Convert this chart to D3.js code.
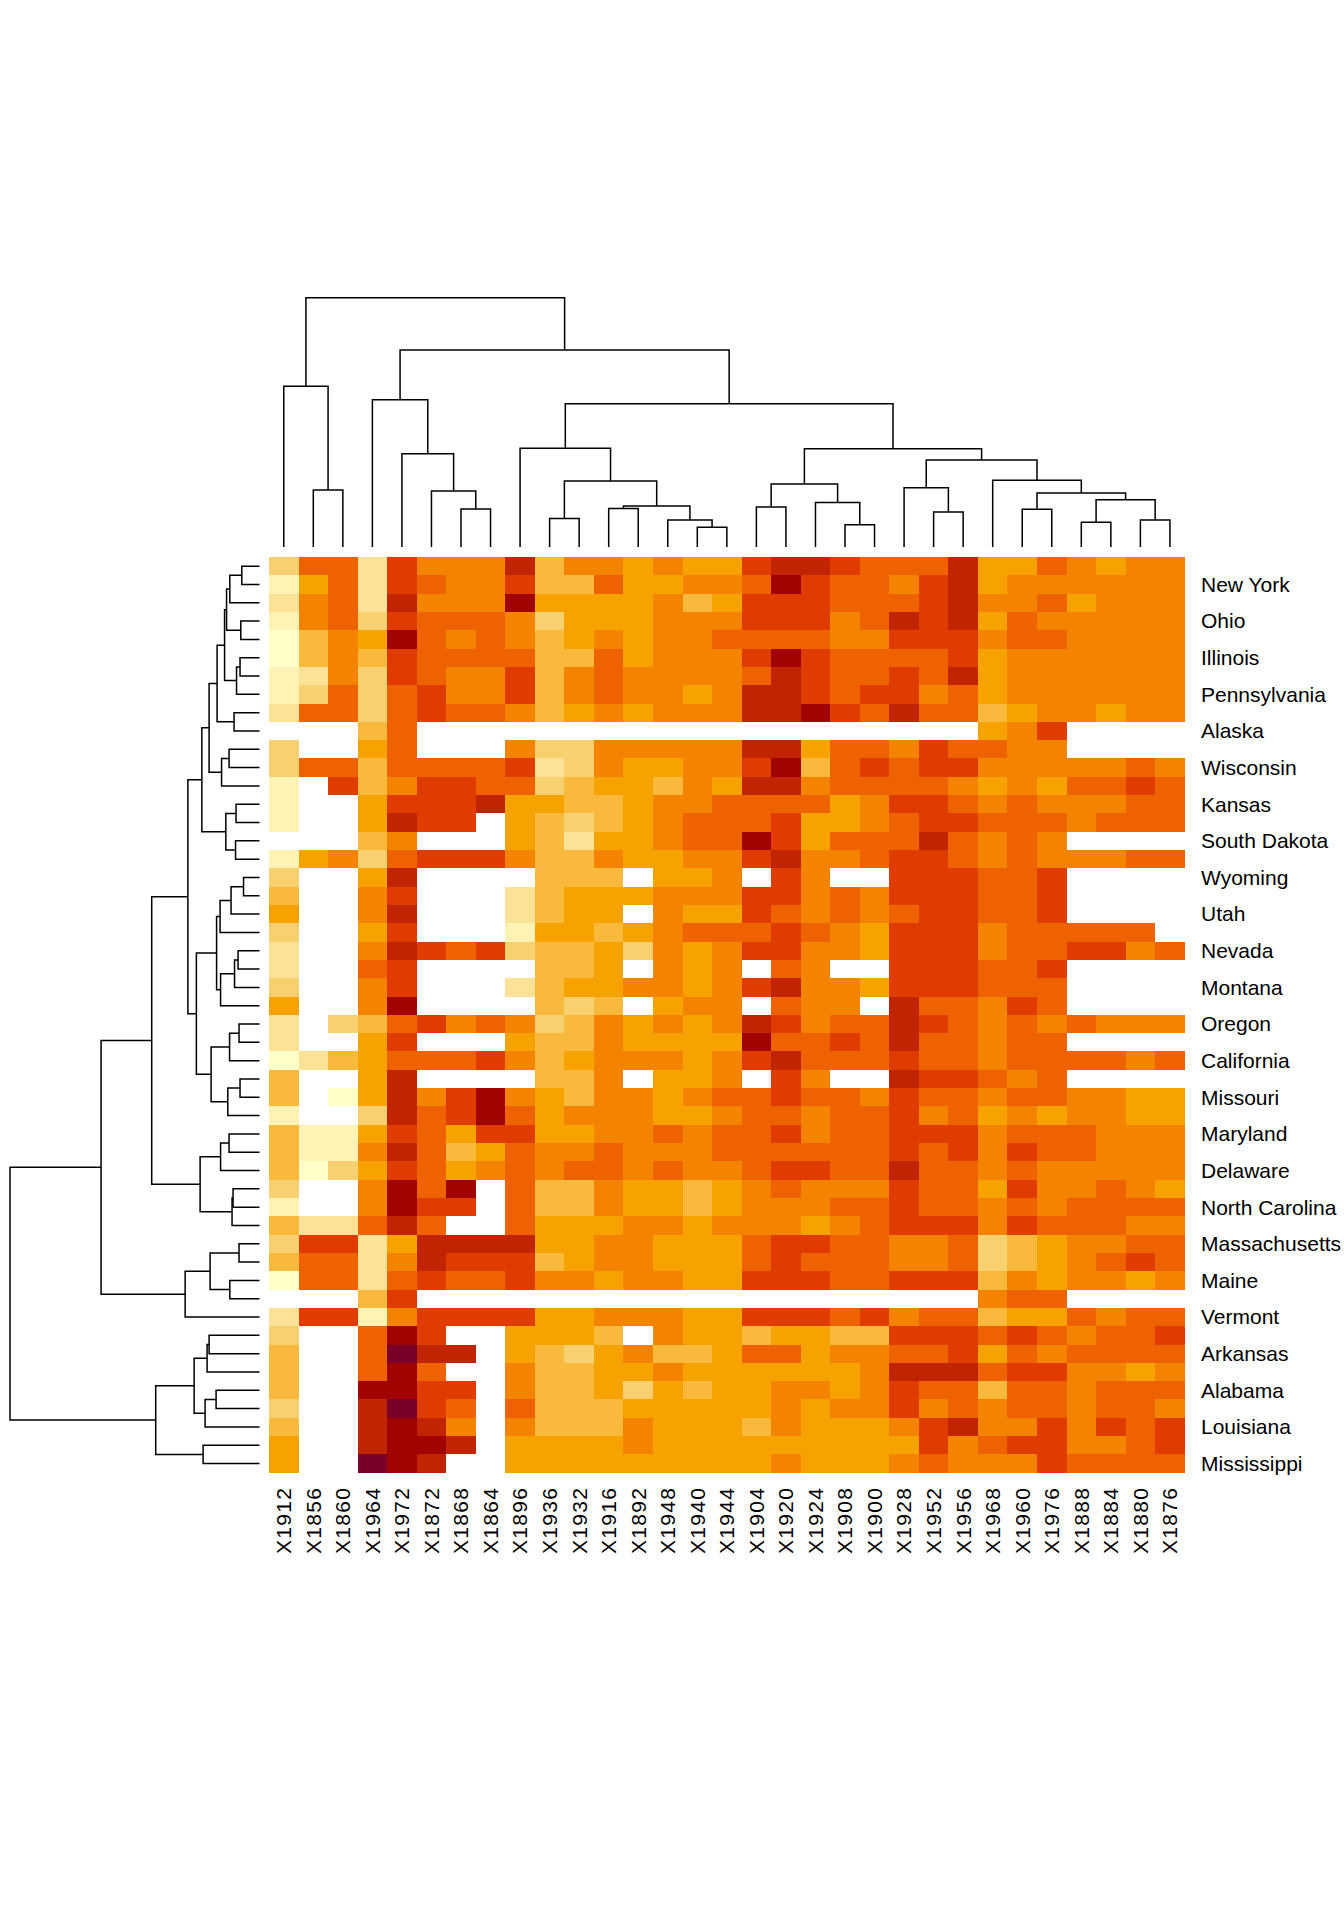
<!DOCTYPE html>
<html>
<head>
    <title>Heatmap</title>
    <script src="https://d3js.org/d3.v7.min.js"></script>
    <style>
        body { margin: 0; background: #fff; }
        text { font-family: "Liberation Sans", Arial, sans-serif; font-size: 21px; fill: #000; }
    </style>
</head>
<body>
    <div id="chart"></div>

    <script>
        var columns = ["X1912","X1856","X1860","X1964","X1972","X1872","X1868","X1864","X1896","X1936","X1932","X1916","X1892","X1948","X1940","X1944","X1904","X1920","X1924","X1908","X1900","X1928","X1952","X1956","X1968","X1960","X1976","X1888","X1884","X1880","X1876"];

        // only every second row carries a label, the rest are dropped like in the original
        var stateLabels = ["New York","Ohio","Illinois","Pennsylvania","Alaska","Wisconsin","Kansas","South Dakota","Wyoming","Utah","Nevada","Montana","Oregon","California","Missouri","Maryland","Delaware","North Carolina","Massachusetts","Maine","Vermont","Arkansas","Alabama","Louisiana","Mississippi"];

        var _ = null;

        // estimated values, one array per row, top to bottom
        var votes = [
            [26,55,55,19,62,48,48,48,69,34,48,48,41,48,41,41,62,69,69,62,55,55,55,69,41,41,55,48,41,48,48],
            [12,41,55,19,62,55,48,48,62,34,34,55,41,41,48,48,55,76,62,55,55,48,62,69,41,48,48,48,48,48,48],
            [19,48,55,19,69,48,48,48,76,41,41,41,41,48,34,41,62,62,62,55,55,55,62,69,48,48,55,41,48,48,48],
            [12,48,55,26,62,55,55,55,48,26,41,41,41,48,48,48,62,62,62,48,55,69,62,69,41,55,48,48,48,48,48],
            [5,34,48,41,76,55,48,55,48,34,41,48,41,48,48,55,55,55,55,48,48,62,62,62,48,55,55,48,48,48,48],
            [5,34,48,34,62,55,55,55,55,34,34,55,41,48,48,48,62,76,62,55,55,55,55,62,41,48,48,48,48,48,48],
            [12,19,48,26,62,55,48,48,62,34,48,55,48,48,48,48,55,69,62,55,55,62,55,69,41,48,48,48,48,48,48],
            [12,26,55,26,55,62,48,48,62,34,48,55,48,48,41,48,69,69,62,55,62,62,48,55,41,48,48,48,48,48,48],
            [19,55,55,26,55,62,55,55,48,34,41,48,41,48,48,48,69,69,76,62,55,69,55,55,34,41,48,48,41,48,48],
            [_,_,_,34,55,_,_,_,_,_,_,_,_,_,_,_,_,_,_,_,_,_,_,_,41,48,62,_,_,_,_],
            [26,_,_,41,55,_,_,_,48,26,26,48,48,48,48,48,69,69,41,55,55,48,62,55,55,48,48,_,_,_,_],
            [26,55,55,34,55,55,55,55,62,19,26,48,41,41,48,48,62,76,34,55,62,55,62,62,48,48,48,48,48,55,48],
            [12,_,62,34,48,62,62,55,55,26,34,41,41,34,48,41,69,69,48,55,55,55,55,48,41,48,41,55,55,62,55],
            [12,_,_,41,62,62,62,69,41,41,34,34,41,48,48,55,55,55,55,41,48,62,62,55,48,55,48,48,48,55,55],
            [12,_,_,41,69,62,62,_,41,34,26,34,41,48,55,55,55,62,41,41,48,55,62,62,55,55,55,48,55,55,55],
            [_,_,_,34,48,_,_,_,41,34,19,41,41,48,55,55,76,62,41,55,55,55,69,55,48,55,48,_,_,_,_],
            [12,41,48,26,55,62,62,62,48,34,34,48,41,41,48,48,62,69,48,48,55,62,62,55,48,55,48,48,48,55,55],
            [26,_,_,41,69,_,_,_,_,34,34,34,_,41,41,48,_,62,48,_,_,62,62,62,55,55,62,_,_,_,_],
            [34,_,_,48,62,_,_,_,19,34,41,41,41,48,48,48,62,62,48,55,48,62,62,62,55,55,62,_,_,_,_],
            [41,_,_,48,69,_,_,_,19,34,41,41,_,48,41,41,62,55,48,55,48,55,62,62,55,55,62,_,_,_,_],
            [26,_,_,41,62,_,_,_,12,41,41,34,41,48,55,55,55,62,55,48,41,62,62,62,48,55,55,55,55,55,_],
            [19,_,_,48,69,62,55,62,26,34,34,41,26,48,41,48,62,62,48,48,41,62,62,62,48,55,55,62,62,48,55],
            [19,_,_,55,62,_,_,_,_,34,34,41,_,48,41,48,_,55,48,_,_,62,62,62,55,55,62,_,_,_,_],
            [26,_,_,48,62,_,_,_,19,34,41,41,48,48,41,48,62,69,48,48,41,62,62,62,55,55,55,_,_,_,_],
            [41,_,_,48,76,_,_,_,_,34,26,34,_,41,48,48,_,55,48,48,_,69,55,55,48,62,55,_,_,_,_],
            [19,_,26,34,55,62,48,55,48,26,34,48,41,48,41,48,69,62,48,55,55,69,62,55,48,55,48,55,48,48,48],
            [19,_,_,41,62,_,_,_,41,34,34,48,41,41,41,41,76,55,55,62,55,69,55,55,48,55,55,_,_,_,_],
            [5,19,34,41,55,55,55,62,48,34,41,48,48,48,41,48,62,69,55,55,55,62,55,55,48,55,55,55,55,48,55],
            [34,_,_,41,69,_,_,_,_,34,34,48,_,41,41,48,_,62,48,_,_,69,62,62,55,48,55,_,_,_,_],
            [34,_,5,41,69,48,62,76,48,41,34,48,48,41,48,55,55,62,55,55,48,62,55,55,48,55,55,48,48,41,41],
            [12,_,_,26,69,55,62,76,55,41,48,48,48,41,41,48,55,55,48,55,55,62,48,55,41,48,41,48,48,41,41],
            [34,12,12,41,62,55,41,62,62,41,41,48,48,55,48,55,55,62,48,55,55,62,62,62,48,55,55,55,48,48,48],
            [34,12,12,48,69,55,34,41,55,48,48,55,48,48,48,55,55,55,55,55,55,62,55,62,48,62,55,55,48,48,48],
            [34,5,26,41,62,55,41,48,55,48,55,55,48,55,48,48,55,62,62,55,55,69,55,55,48,55,48,48,48,48,48],
            [26,_,_,48,76,55,76,_,55,34,34,48,41,41,34,41,48,55,48,48,48,62,55,55,41,62,48,48,55,48,41],
            [12,_,_,48,76,62,62,_,55,34,34,48,41,41,34,41,48,48,48,55,55,62,55,55,48,55,48,55,55,55,55],
            [34,19,19,55,69,55,_,_,55,41,41,41,48,48,41,48,48,48,41,48,55,62,62,62,48,62,55,55,55,48,48],
            [26,62,62,19,41,69,69,69,69,41,41,48,48,41,41,41,55,62,62,55,55,48,48,55,26,34,41,48,48,55,55],
            [34,55,55,19,48,69,62,62,62,34,41,48,48,41,41,41,55,62,55,55,55,48,48,55,26,34,41,48,55,62,55],
            [5,55,55,19,55,62,55,55,62,48,48,41,48,48,41,41,62,62,62,55,55,62,62,62,34,48,41,48,48,41,48],
            [_,_,_,34,62,_,_,_,_,_,_,_,_,_,_,_,_,_,_,_,_,_,_,_,48,55,55,_,_,_,_],
            [19,62,62,12,48,62,62,62,62,41,41,48,48,48,41,41,62,62,62,55,62,48,55,55,34,41,41,55,48,55,55],
            [26,_,_,55,76,62,_,_,41,41,41,34,_,48,41,41,34,41,41,34,34,62,62,62,55,62,55,48,55,55,62],
            [34,_,_,55,84,69,69,_,41,34,26,41,48,34,34,41,55,55,41,48,48,55,55,62,41,55,48,55,55,55,55],
            [34,_,_,55,76,55,_,_,48,34,34,41,41,48,41,41,41,41,41,41,48,69,69,69,55,62,62,48,48,41,48],
            [34,_,_,76,76,62,62,_,48,34,34,41,26,41,34,41,41,48,48,41,48,62,55,55,34,55,55,48,55,55,55],
            [26,_,_,69,84,62,55,_,55,34,34,34,41,41,41,41,41,48,41,48,48,62,48,55,48,55,55,48,55,55,48],
            [34,_,_,69,76,69,48,_,48,34,34,34,48,41,41,41,34,48,41,41,41,48,62,69,48,48,62,48,62,55,62],
            [41,_,_,69,76,76,69,_,41,41,41,41,48,41,41,41,41,41,41,41,41,41,62,48,55,62,62,48,48,55,62],
            [41,_,_,84,76,69,_,_,41,41,41,41,41,41,41,41,41,48,41,41,41,48,55,48,48,48,62,55,55,55,55]
        ];

        var palette = ["#ffffc8","#fef2b4","#fbe296","#f7d070","#f8b93c","#f6a300","#f48300","#ee6300","#e03c00","#c12400","#a00400","#7a0028"];

        // dendrograms: [height, left, right], a plain number is a leaf (column or row index)
        var columnTree = [100,
            [64.5, 0, [22.9, 1, 2]],
            [79.0,
                [59.1, 3, [37.4, 4, [22.5, 5, [15.2, 6, 7]]]],
                [57.5,
                    [39.6, 8, [26.5, [11.4, 9, 10], [16.4, [15.4, 11, 12], [10.8, 13, [7.9, 14, 15]]]]],
                    [39.4,
                        [25.3, [16.0, 16, 17], [17.9, 18, [8.9, 19, 20]]],
                        [34.9,
                            [23.8, 21, [14.0, 22, 23]],
                            [26.8, 24, [21.7, [15.1, 25, 26], [19.0, [9.9, 27, 28], [10.8, 29, 30]]]]
                        ]
                    ]
                ]
            ]
        ];

        var rowTree = [100,
            [63.5,
                [43.2,
                    [28.7,
                        [23.1,
                            [20.2,
                                [17.0,
                                    [14.0,
                                        [13.2, [11.9, [7.1, 0, 1], 2], [7.5, 3, 4]],
                                        [9.2, [7.8, 5, 6], 7]
                                    ],
                                    [10.2, 8, 9]
                                ],
                                [15.2, [12.2, 10, 11], 12]
                            ],
                            [13.5, [9.4, 13, 14], [9.6, 15, 16]]
                        ],
                        [25.3,
                            [17.2,
                                [15.8, [11.4, [6.4, 17, 18], 19], 20],
                                [15.6, [10.0, [8.6, 21, 22], 23], 24]
                            ],
                            [19.4,
                                [12.0, [8.2, 25, 26], 27],
                                [12.7, [7.8, 28, 29], 30]
                            ]
                        ]
                    ],
                    [23.8,
                        [15.6, [12.2, 31, 32], 33],
                        [11.0, [10.6, 34, 35], 36]
                    ]
                ],
                [29.8,
                    [19.8, [8.2, 37, 38], [11.9, 39, 40]],
                    41
                ]
            ],
            [41.6,
                [26.2,
                    [21.0, [20.2, 42, 43], 44],
                    [21.8, [17.4, 45, 46], 47]
                ],
                [22.6, 48, 49]
            ]
        ];

        var width = 1344;
        var height = 1920;

        var svg = d3.select("#chart")
            .append("svg")
            .attr("width", width)
            .attr("height", height);

        var x = d3.scaleBand().domain(columns).range([269, 1184.7]);
        var y = d3.scaleBand().domain(d3.range(votes.length)).range([557, 1472.7]);

        var color = d3.scaleQuantize().domain([1.43, 87.14]).range(palette);

        // Heat cells
        var cells = [];
        votes.forEach(function(row, r) {
            row.forEach(function(v, c) {
                if (v !== null) cells.push({ row: r, column: columns[c], value: v });
            });
        });

        svg.append("g").selectAll("rect")
            .data(cells)
            .enter().append("rect")
            .attr("x", function(d) { return x(d.column); })
            .attr("y", function(d) { return y(d.row); })
            .attr("width", x.bandwidth())
            .attr("height", y.bandwidth())
            .attr("fill", function(d) { return color(d.value); })
            .attr("shape-rendering", "crispEdges");

        // Dendrograms
        function drawTree(tree, leafPos, heightScale, horizontal) {
            var root = d3.hierarchy(tree, function(d) {
                return Array.isArray(d) ? d.slice(1) : null;
            });
            root.eachAfter(function(n) {
                if (n.children) {
                    n.pos = d3.mean(n.children, function(k) { return k.pos; });
                    n.h = heightScale(n.data[0]);
                } else {
                    n.pos = leafPos(n.data);
                    n.h = heightScale(0);
                }
            });
            var pt = function(p, h) { return horizontal ? h + "," + p : p + "," + h; };
            svg.append("g").selectAll("path")
                .data(root.descendants().filter(function(n) { return n.children; }))
                .enter().append("path")
                .attr("fill", "none")
                .attr("stroke", "#000")
                .attr("stroke-width", 1.5)
                .attr("d", function(n) {
                    var a = n.children[0], b = n.children[1];
                    return "M" + pt(a.pos, a.h) + "L" + pt(a.pos, n.h) + "L" + pt(b.pos, n.h) + "L" + pt(b.pos, b.h);
                });
        }

        drawTree(columnTree,
            function(i) { return x(columns[i]) + x.bandwidth() / 2; },
            d3.scaleLinear().domain([0, 100]).range([547, 297.7]),
            false);

        drawTree(rowTree,
            function(i) { return y(i) + y.bandwidth() / 2; },
            d3.scaleLinear().domain([0, 100]).range([259.5, 10]),
            true);

        // Labels
        var bottomAxis = d3.axisBottom(x).tickSize(0);
        svg.append("g")
            .attr("transform", "translate(0,1472.7)")
            .call(bottomAxis)
            .call(function(g) { g.select(".domain").remove(); })
            .selectAll("text")
            .attr("font-size", null)
            .attr("transform", "rotate(-90)")
            .attr("x", -14)
            .attr("y", 0)
            .attr("dy", "0.35em")
            .style("letter-spacing", "1.3px")
            .style("text-anchor", "end");

        var rightAxis = d3.axisRight(y)
            .tickSize(0)
            .tickValues(stateLabels.map(function(s, i) { return i * 2 + 1; }))
            .tickFormat(function(r) { return stateLabels[(r - 1) / 2]; });
        svg.append("g")
            .attr("transform", "translate(1201,0)")
            .call(rightAxis)
            .call(function(g) { g.select(".domain").remove(); })
            .selectAll("text")
            .attr("x", 0)
            .attr("dy", "0.35em");
    </script>
</body>
</html>
